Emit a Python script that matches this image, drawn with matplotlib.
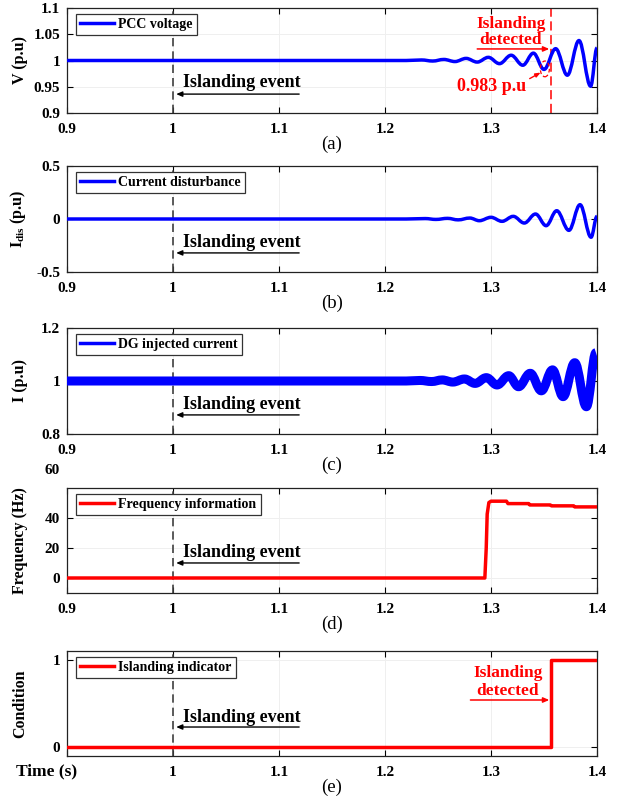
import matplotlib
matplotlib.use('Agg')
import matplotlib.pyplot as plt
from matplotlib.path import Path
from matplotlib.patches import PathPatch, Ellipse
from matplotlib.lines import Line2D

plt.rcParams['font.family'] = ['Liberation Serif', 'DejaVu Serif']
plt.rcParams['font.weight'] = 'bold'
plt.rcParams['axes.labelweight'] = 'bold'
plt.rcParams['mathtext.fontset'] = 'custom'
plt.rcParams['mathtext.bf'] = 'Liberation Serif:bold'
plt.rcParams['mathtext.rm'] = 'Liberation Serif:bold'

BLUE = '#0000ff'
RED = '#ff0000'

# (a) PCC voltage, extrema
v_time = [0.9, 1.22, 1.2345, 1.245, 1.2555, 1.266, 1.2765, 1.287, 1.2975, 1.308,
          1.319, 1.330, 1.340, 1.350, 1.361, 1.372, 1.383, 1.394, 1.4]
v_pcc = [1.0, 1.0, 1.001, 0.999, 1.002, 0.998, 1.004, 0.997, 1.006, 0.994,
         1.010, 0.991, 1.014, 0.983, 1.0225, 0.972, 1.038, 0.951, 1.024]

# (b) current disturbance
idis_time = [0.9, 1.22, 1.238, 1.248, 1.259, 1.269, 1.280, 1.289, 1.300, 1.3104,
             1.321, 1.3314, 1.342, 1.352, 1.362, 1.3735, 1.384, 1.3944, 1.4]
i_dis = [0.0, 0.0, 0.004, -0.004, 0.006, -0.008, 0.009, -0.016, 0.016, -0.022,
         0.025, -0.038, 0.047, -0.063, 0.078, -0.107, 0.135, -0.172, 0.025]

# (c) DG injected current (envelope centre)
idg_time = [0.9, 1.22, 1.233, 1.244, 1.254, 1.264, 1.275, 1.285, 1.2956, 1.3057,
            1.3167, 1.326, 1.337, 1.3475, 1.358, 1.368, 1.379, 1.390, 1.399]
i_dg = [1.0, 1.0, 1.002, 0.998, 1.004, 0.996, 1.0076, 0.991, 1.0126, 0.985,
        1.020, 0.9785, 1.029, 0.963, 1.042, 0.941, 1.069, 0.903, 1.107]

# (d) frequency information
f_time = [0.9, 1.2942, 1.2955, 1.2964, 1.298, 1.300, 1.3146, 1.316, 1.3356, 1.3366,
          1.356, 1.357, 1.378, 1.379, 1.4]
freq = [0.0, 0.0, 20.0, 42.6, 50.3, 51.2, 51.2, 49.6, 49.6, 48.7,
        48.7, 48.1, 48.1, 47.4, 47.4]

# (e) islanding indicator
c_time = [0.9, 1.357, 1.357, 1.4]
cond = [0, 0, 1, 1]

event_t = 1.0
detect_t = 1.357
x_ticks = [0.9, 1.0, 1.1, 1.2, 1.3, 1.4]
x_labels = ['0.9', '1', '1.1', '1.2', '1.3', '1.4']


def smooth_line(ax, t, v, color, lw):
    verts = [(t[0], v[0])]
    codes = [Path.MOVETO]
    for i in range(1, len(t)):
        d = (t[i] - t[i - 1]) * 0.37
        verts += [(t[i - 1] + d, v[i - 1]), (t[i] - d, v[i]), (t[i], v[i])]
        codes += [Path.CURVE4] * 3
    ax.add_patch(PathPatch(Path(verts, codes), fill=False, edgecolor=color,
                           lw=lw, capstyle='butt', joinstyle='round', zorder=3))


def setup(ax, ylim, yticks, ylabels, label, letter, text_y, arrow_y):
    ax.set_xlim(0.9, 1.4)
    ax.set_ylim(*ylim)
    ax.set_xticks(x_ticks)
    ax.set_xticklabels(x_labels)
    ax.set_yticks(yticks)
    ax.set_yticklabels(ylabels)
    ax.tick_params(direction='in', top=True, right=True, length=4,
                   labelsize=11, width=0.8)
    ax.tick_params(axis='x', pad=7)
    ax.tick_params(axis='y', pad=5)
    ax.grid(True, color='#efefef', lw=0.7)
    ax.set_axisbelow(True)
    for s in ax.spines.values():
        s.set_color('#222222')
        s.set_linewidth(0.9)
    ax.set_ylabel(label, fontsize=11.5)
    ax.yaxis.set_label_coords(-0.074, 0.5)
    ax.set_xlabel(letter, fontsize=13.5, fontweight='normal', labelpad=0)
    ax.axvline(event_t, color='#404040', lw=1.2, ls=(0, (5, 3)), zorder=2)
    ax.text(1.0094, text_y, 'Islanding event', transform=ax.get_xaxis_transform(),
            fontsize=13, va='center', ha='left')
    ax.annotate('', xy=(1.003, arrow_y), xytext=(1.119, arrow_y),
                xycoords=ax.get_xaxis_transform(),
                arrowprops=dict(arrowstyle='-|>,head_length=0.35,head_width=0.15',
                                color='black', lw=1.0, shrinkA=0, shrinkB=0))


def add_legend(ax, color, text):
    h = [Line2D([], [], color=color, lw=2.5)]
    leg = ax.legend(h, [text], loc='upper left', bbox_to_anchor=(0.017, 0.943),
                    borderaxespad=0, fontsize=10, handlelength=2.45,
                    handletextpad=0.3, borderpad=0.3, fancybox=False,
                    framealpha=1, edgecolor='#333333')
    leg.get_frame().set_linewidth(0.9)
    leg.set_zorder(5)


fig = plt.figure(figsize=(6.2, 8.0), dpi=100)
L, W = 67 / 620, 530 / 620
boxes = [(8, 113), (166, 272), (328, 434), (488, 593), (651, 756)]
axes = [fig.add_axes([L, 1 - b / 800, W, (b - t) / 800]) for t, b in boxes]
ax_a, ax_b, ax_c, ax_d, ax_e = axes

# (a)
setup(ax_a, (0.9, 1.1), [0.9, 0.95, 1.0, 1.05, 1.1],
      ['0.9', '0.95', '1', '1.05', '1.1'], 'V (p.u)', '(a)', 0.286, 0.18)
smooth_line(ax_a, v_time, v_pcc, BLUE, 2.5)
add_legend(ax_a, BLUE, 'PCC voltage')
ax_a.axvline(detect_t, color=RED, lw=1.1, ls=(0, (6, 3)), zorder=2)
ax_a.text(1.3187, 1.07, 'Islanding', color=RED, fontsize=12.5, ha='center', va='center')
ax_a.text(1.3187, 1.04, 'detected', color=RED, fontsize=12.5, ha='center', va='center')
ax_a.annotate('', xy=(1.355, 1.022), xytext=(1.287, 1.022),
              arrowprops=dict(arrowstyle='-|>,head_length=0.35,head_width=0.15',
                              color=RED, lw=1.1, shrinkA=0, shrinkB=0))
ax_a.add_patch(Ellipse((1.3508, 0.984), 0.0085, 0.03, fill=False, ec=RED,
                       lw=0.9, ls=(0, (3, 2)), zorder=4))
ax_a.annotate('', xy=(1.3468, 0.977), xytext=(1.3365, 0.9655),
              arrowprops=dict(arrowstyle='-|>,head_length=0.3,head_width=0.12',
                              color=RED, lw=1.0, shrinkA=0, shrinkB=0))
ax_a.text(1.301, 0.951, '0.983 p.u', color=RED, fontsize=13, ha='center', va='center')

# (b)
setup(ax_b, (-0.5, 0.5), [-0.5, 0, 0.5], ['-0.5', '0', '0.5'],
      r'$\mathbf{I_{dis}}$ (p.u)', '(b)', 0.283, 0.18)
smooth_line(ax_b, idis_time, i_dis, BLUE, 2.5)
add_legend(ax_b, BLUE, 'Current disturbance')

# (c)
setup(ax_c, (0.8, 1.2), [0.8, 1.0, 1.2], ['0.8', '1', '1.2'],
      'I (p.u)', '(c)', 0.274, 0.18)
smooth_line(ax_c, idg_time, i_dg, BLUE, 6.5)
add_legend(ax_c, BLUE, 'DG injected current')

# (d)
setup(ax_d, (-10, 60), [0, 20, 40], ['0', '20', '40'],
      'Frequency (Hz)', '(d)', 0.381, 0.286)
ax_d.plot(f_time, freq, color=RED, lw=2.5, solid_joinstyle='round', zorder=3)
add_legend(ax_d, RED, 'Frequency information')
ax_d.text(-0.013, 1.171, '60', transform=ax_d.transAxes, fontsize=11,
          ha='right', va='center')

# (e)
setup(ax_e, (-0.1, 1.1), [0, 1], ['0', '1'], 'Condition', '(e)', 0.37, 0.276)
ax_e.set_xticklabels([''] + x_labels[1:])
ax_e.plot(c_time, cond, color=RED, lw=2.5, zorder=3)
add_legend(ax_e, RED, 'Islanding indicator')
ax_e.text(-0.038, -0.143, 'Time (s)', transform=ax_e.transAxes, fontsize=12.5,
          ha='center', va='center')
ax_e.text(1.3157, 0.85, 'Islanding', color=RED, fontsize=12.5, ha='center', va='center')
ax_e.text(1.3157, 0.64, 'detected', color=RED, fontsize=12.5, ha='center', va='center')
ax_e.annotate('', xy=(1.355, 0.54), xytext=(1.2806, 0.54),
              arrowprops=dict(arrowstyle='-|>,head_length=0.35,head_width=0.15',
                              color=RED, lw=1.1, shrinkA=0, shrinkB=0))

fig.savefig('out.png', dpi=100)
